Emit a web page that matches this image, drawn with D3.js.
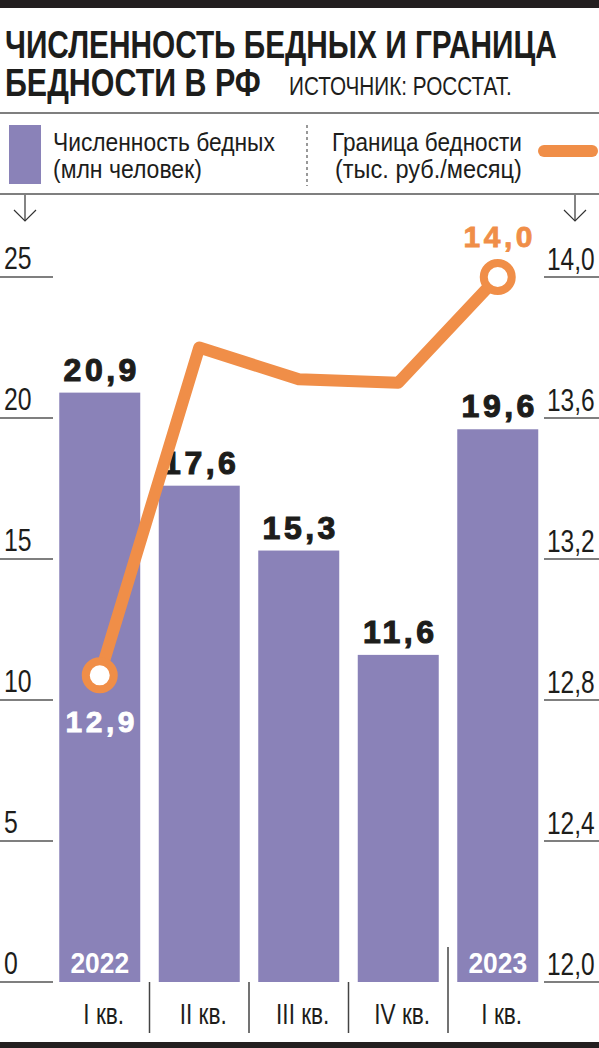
<!DOCTYPE html>
<html>
<head>
<meta charset="utf-8">
<script src="https://cdn.jsdelivr.net/npm/d3@7"></script>
<style>
  html, body { margin: 0; padding: 0; background: #fff; }
  svg { display: block; }
  .narrow { font-family: "Liberation Sans", Arial, sans-serif; }
  .heavy { font-family: "Liberation Sans", Arial, sans-serif; font-weight: bold; }
</style>
</head>
<body>
<svg id="chart"></svg>
<script>
const quarters = ["I кв.", "II кв.", "III кв.", "IV кв.", "I кв."];
const years = ["2022", "", "", "", "2023"];
const poorMillions = [20.9, 17.6, 15.3, 11.6, 19.6];
const povertyLine = [12.87, 13.8, 13.71, 13.7, 14.0];
const leftTicks = [0, 5, 10, 15, 20, 25];
const rightTicks = [12.0, 12.4, 12.8, 13.2, 13.6, 14.0];

const WIDTH = 599;
const HEIGHT = 1048;
const BASE_Y = 982;
const TOP_Y = 277;
const INK = "#1d1d1b";
const RULE = "#555";
const PURPLE = "#8a82b8";
const ORANGE = "#f08e48";

const comma = d3.formatLocale({ decimal: ",", thousands: " ", grouping: [3], currency: ["", ""] });
const fmt1 = comma.format(".1f");

const svg = d3.select("#chart").attr("width", WIDTH).attr("height", HEIGHT);

// condensed look: scale glyphs horizontally around the anchor point
function squeeze(sel, k) {
   sel.each(function () {
      const t = d3.select(this);
      const tx = +t.attr("x"), ty = +t.attr("y");
      t.attr("transform", `translate(${tx},${ty}) scale(${k},1) translate(${-tx},${-ty})`);
   });
   return sel;
}
// squeeze a text to the width it has in the print version
function fit(sel, w) {
   const natural = sel.node().getComputedTextLength();
   return squeeze(sel, w / natural);
}

// header
svg.append("rect").attr("x", 0).attr("y", 0).attr("width", WIDTH).attr("height", 8).attr("fill", "#231f20");

fit(svg.append("text").attr("class", "heavy").attr("x", 5).attr("y", 58)
   .attr("font-size", 38).attr("fill", INK)
   .text("ЧИСЛЕННОСТЬ БЕДНЫХ И ГРАНИЦА"), 552);
fit(svg.append("text").attr("class", "heavy").attr("x", 5).attr("y", 96)
   .attr("font-size", 38).attr("fill", INK)
   .text("БЕДНОСТИ В РФ"), 256);
fit(svg.append("text").attr("class", "narrow").attr("x", 289).attr("y", 95)
   .attr("font-size", 25).attr("fill", INK)
   .text("ИСТОЧНИК: РОССТАТ."), 223);

svg.append("line").attr("x1", 0).attr("x2", WIDTH).attr("y1", 113).attr("y2", 113)
   .attr("stroke", RULE).attr("stroke-width", 1.5);
svg.append("line").attr("x1", 0).attr("x2", WIDTH).attr("y1", 194).attr("y2", 194)
   .attr("stroke", RULE).attr("stroke-width", 1.5);

// legend
const legend = svg.append("g").attr("id", "legend");
legend.append("rect").attr("x", 9).attr("y", 125).attr("width", 32).attr("height", 59).attr("fill", PURPLE);
fit(legend.append("text").attr("class", "narrow").attr("x", 53).attr("y", 151)
   .attr("font-size", 26).attr("fill", INK).text("Численность бедных"), 222);
fit(legend.append("text").attr("class", "narrow").attr("x", 53).attr("y", 178)
   .attr("font-size", 26).attr("fill", INK).text("(млн человек)"), 149);
legend.append("line").attr("x1", 307).attr("x2", 307).attr("y1", 125).attr("y2", 186)
   .attr("stroke", RULE).attr("stroke-width", 1.2).attr("stroke-dasharray", "3,3");
fit(legend.append("text").attr("class", "narrow").attr("x", 332).attr("y", 151)
   .attr("font-size", 26).attr("fill", INK).text("Граница бедности"), 190);
fit(legend.append("text").attr("class", "narrow").attr("x", 335).attr("y", 178)
   .attr("font-size", 26).attr("fill", INK).text("(тыс. руб./месяц)"), 187);
legend.append("line").attr("x1", 544).attr("x2", 592).attr("y1", 151).attr("y2", 151)
   .attr("stroke", ORANGE).attr("stroke-width", 12).attr("stroke-linecap", "round");

// axis arrows
[25, 575].forEach(ax => {
   const a = svg.append("g").attr("stroke", "#333").attr("stroke-width", 1.2).attr("fill", "none");
   a.append("line").attr("x1", ax).attr("x2", ax).attr("y1", 195).attr("y2", 221);
   a.append("path").attr("d", `M${ax - 11},210 L${ax},221 L${ax + 11},210`);
});

// scales
const x = d3.scaleBand()
   .domain(d3.range(quarters.length))
   .range([50, 547.5])
   .paddingInner(0.186)
   .paddingOuter(0.093);
const yLeft = d3.scaleLinear().domain([0, 25]).range([BASE_Y, TOP_Y]);
const yRight = d3.scaleLinear().domain([12, 14]).range([BASE_Y, TOP_Y]);
const cx = i => x(i) + x.bandwidth() / 2;

// left ticks
const lt = svg.append("g").attr("id", "y-left").selectAll("g").data(leftTicks).join("g")
   .attr("transform", d => `translate(0,${yLeft(d)})`);
lt.append("line").attr("x1", 0).attr("x2", 53).attr("stroke", RULE).attr("stroke-width", 1.5);
squeeze(lt.append("text").attr("class", "narrow").attr("x", 4).attr("y", -8)
   .attr("font-size", 31).attr("fill", INK).text(d => d), 0.8);

// right ticks
const rt = svg.append("g").attr("id", "y-right").selectAll("g").data(rightTicks).join("g")
   .attr("transform", d => `translate(0,${yRight(d)})`);
rt.append("line").attr("x1", 544).attr("x2", WIDTH).attr("stroke", RULE).attr("stroke-width", 1.5);
squeeze(rt.append("text").attr("class", "narrow").attr("x", 547).attr("y", -7)
   .attr("font-size", 31).attr("fill", INK).text(d => fmt1(d)), 0.79);

// bars
svg.append("g").attr("id", "bars").selectAll("rect").data(poorMillions).join("rect")
   .attr("x", (_, i) => x(i))
   .attr("y", d => yLeft(d))
   .attr("width", x.bandwidth())
   .attr("height", d => BASE_Y - yLeft(d))
   .attr("fill", PURPLE);

svg.append("g").attr("id", "bar-labels").selectAll("text").data(poorMillions).join("text")
   .attr("class", "heavy")
   .attr("x", (_, i) => cx(i) + 2)
   .attr("y", d => yLeft(d) - 12)
   .attr("text-anchor", "middle")
   .attr("font-size", 32)
   .attr("letter-spacing", 3.5)
   .attr("fill", INK).attr("stroke", INK).attr("stroke-width", 1.1)
   .text(d => fmt1(d));

// year labels inside bars
squeeze(svg.append("g").attr("id", "years").selectAll("text").data(years).join("text")
   .attr("class", "heavy")
   .attr("x", (_, i) => cx(i))
   .attr("y", 973)
   .attr("text-anchor", "middle")
   .attr("font-size", 30)
   .attr("fill", "#fff")
   .text(d => d), 0.88);

// category labels and separators
squeeze(svg.append("g").attr("id", "x-axis").selectAll("text").data(quarters).join("text")
   .attr("class", "narrow")
   .attr("x", (_, i) => cx(i) + 4)
   .attr("y", 1024)
   .attr("text-anchor", "middle")
   .attr("font-size", 29)
   .attr("fill", INK)
   .text(d => d), 0.78);

svg.append("g").attr("id", "separators").selectAll("line").data(d3.range(1, quarters.length)).join("line")
   .attr("x1", i => x(i) - x.step() * x.paddingInner() / 2)
   .attr("x2", i => x(i) - x.step() * x.paddingInner() / 2)
   .attr("y1", i => years[i] ? 947 : BASE_Y)
   .attr("y2", 1033)
   .attr("stroke", "#444").attr("stroke-width", 1.5);

svg.append("rect").attr("x", 0).attr("y", 1042).attr("width", WIDTH).attr("height", 6).attr("fill", "#231f20");

// poverty line
const line = d3.line().x((_, i) => cx(i)).y(d => yRight(d));
svg.append("path").datum(povertyLine)
   .attr("d", line)
   .attr("fill", "none")
   .attr("stroke", ORANGE)
   .attr("stroke-width", 12)
   .attr("stroke-linejoin", "round");

const ends = [0, povertyLine.length - 1];
svg.append("g").attr("id", "line-points").selectAll("circle").data(ends).join("circle")
   .attr("cx", i => cx(i))
   .attr("cy", i => yRight(povertyLine[i]))
   .attr("r", 14)
   .attr("fill", "#fff")
   .attr("stroke", ORANGE)
   .attr("stroke-width", 8);

svg.append("g").attr("id", "line-labels").selectAll("text").data(ends).join("text")
   .attr("class", "heavy")
   .attr("x", i => cx(i) + 2)
   .attr("y", i => i === 0 ? yRight(povertyLine[i]) + 57 : yRight(povertyLine[i]) - 30)
   .attr("text-anchor", "middle")
   .attr("font-size", 30)
   .attr("letter-spacing", 3.5)
   .attr("fill", i => i === 0 ? "#fff" : ORANGE)
   .attr("stroke", i => i === 0 ? "#fff" : ORANGE)
   .attr("stroke-width", 0.8)
   .text(i => fmt1(povertyLine[i]));
</script>
</body>
</html>
